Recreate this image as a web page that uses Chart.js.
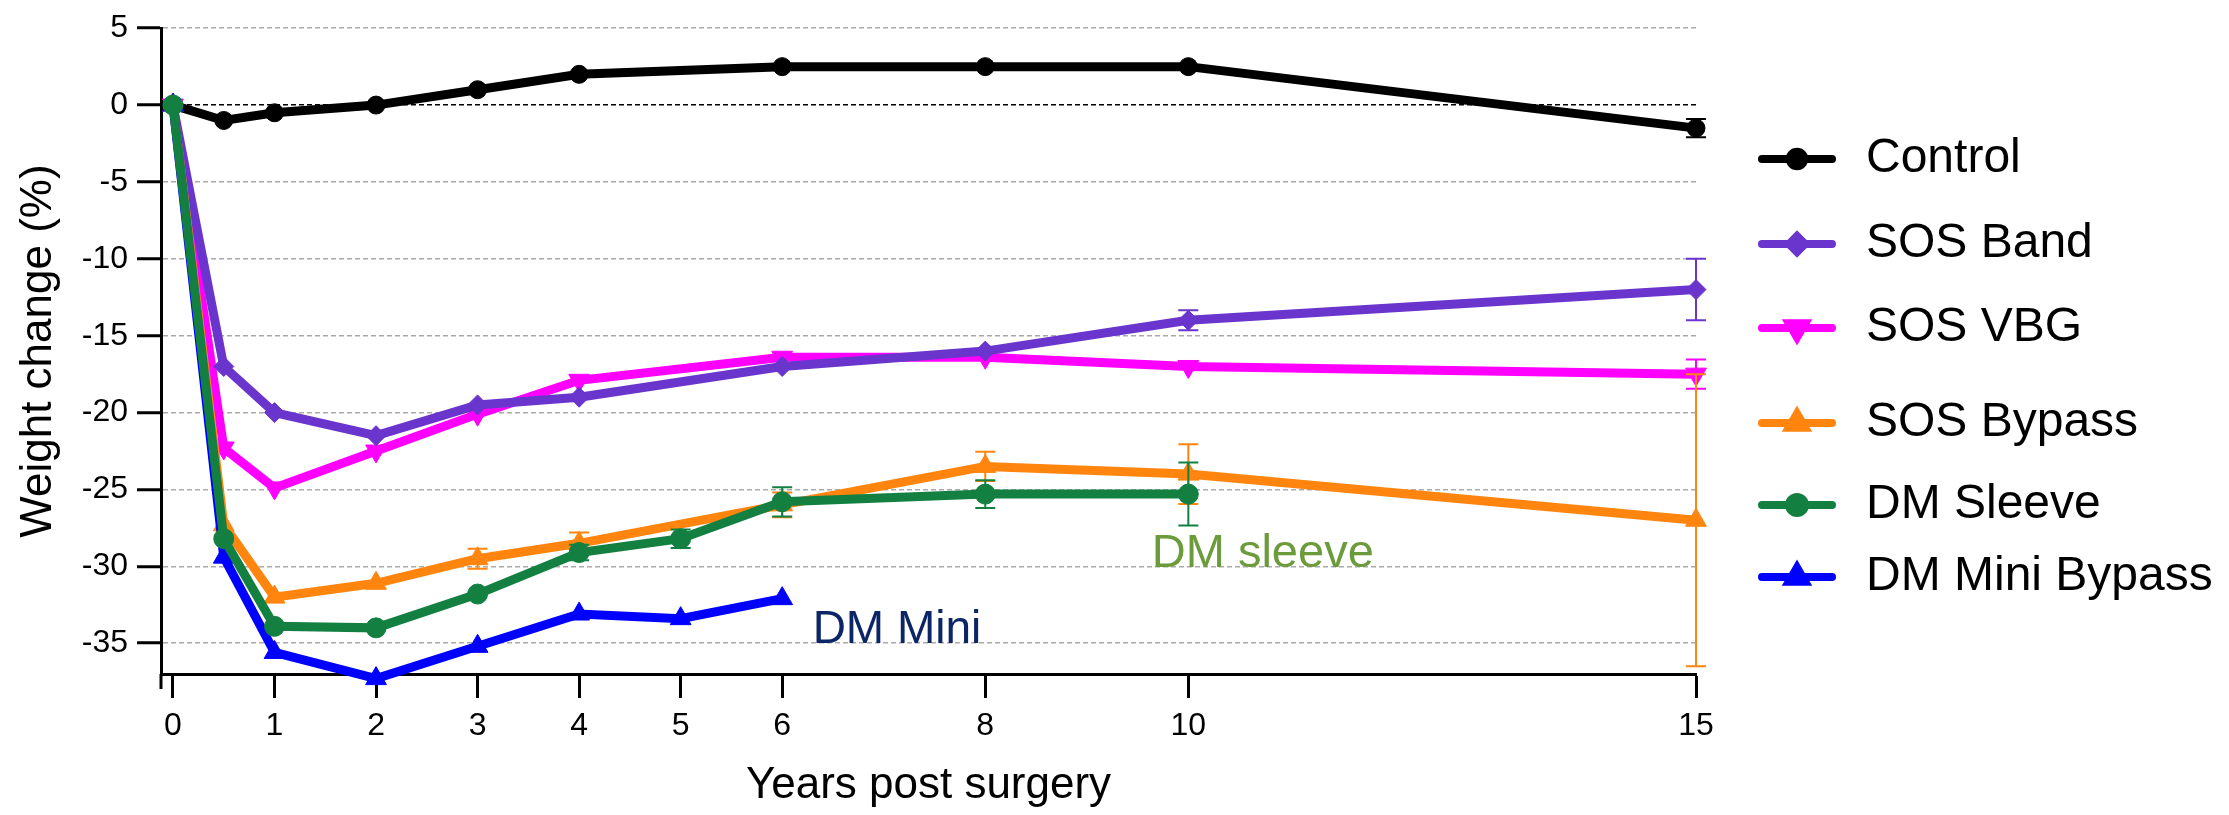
<!DOCTYPE html>
<html>
<head>
<meta charset="utf-8">
<script src="https://cdn.jsdelivr.net/npm/chart.js@4.4.1/dist/chart.umd.min.js"></script>
<style>
  body { margin: 0; background: #fff; }
  canvas { display: block; }
</style>
</head>
<body>
<canvas id="mycanvas" width="2229" height="815"></canvas>
<script>
var FONT = '"Liberation Sans", Arial, Helvetica, sans-serif';

// data (weight change %, mean with error)
var seriesNames = ['Control', 'SOS Band', 'SOS VBG', 'SOS Bypass', 'DM Sleeve', 'DM Mini Bypass'];
var sosYears = [0, 0.5, 1, 2, 3, 4, 6, 8, 10, 15];
var sleeveYears = [0, 0.5, 1, 2, 3, 4, 5, 6, 8, 10];
var miniYears = [0, 0.5, 1, 2, 3, 4, 5, 6];

var control = [0, -1, -0.5, 0, 1, 2, 2.5, 2.5, 2.5, -1.5];
var controlErr = [0, 0, 0, 0, 0, 0, 0, 0, 0, 0.6];
var sosBand = [0, -17, -20, -21.5, -19.5, -19, -17, -16, -14, -12];
var sosBandErr = [0, 0, 0, 0, 0, 0, 0, 0, 0.65, 2];
var sosVbg = [0, -22.3, -24.9, -22.5, -20.1, -17.9, -16.4, -16.4, -17, -17.5];
var sosVbgErr = [0, 0, 0, 0, 0, 0, 0, 0, 0, 0.95];
var sosBypass = [0, -27.3, -32, -31.1, -29.5, -28.5, -26, -23.5, -24, -27];
var sosBypassErr = [0, 0, 0, 0, 0.65, 0.7, 0.8, 0.95, 1.95, 9.5];
var dmSleeve = [0, -28.2, -33.9, -34, -31.8, -29.1, -28.2, -25.8, -25.3, -25.3];
var dmSleeveErr = [0, 0, 0, 0, 0, 0.5, 0.6, 0.95, 0.9, 2.05];
var dmMini = [0, -29.4, -35.6, -37.3, -35.2, -33.1, -33.4, -32.1];
var dmMiniErr = [0, 0, 0, 0, 0, 0, 0, 0];

var xTicks = [0, 1, 2, 3, 4, 5, 6, 8, 10, 15];
var yTicks = [5, 0, -5, -10, -15, -20, -25, -30, -35];

function pts(xs, ys) {
  return xs.map(function(x, i) { return {x: x, y: ys[i]}; });
}

function series(i, xs, ys, errs, color, style, radius, rot, order) {
  return {
    label: seriesNames[i],
    data: pts(xs, ys),
    errors: errs,
    borderColor: color,
    backgroundColor: color,
    borderWidth: 9,
    pointStyle: style,
    pointRadius: radius,
    pointRotation: rot,
    pointBorderWidth: 1,
    tension: 0,
    clip: false,
    order: order
  };
}

var datasets = [
  series(0, sosYears, control, controlErr, '#000000', 'circle', 9, 0, 5),
  series(1, sosYears, sosBand, sosBandErr, '#6a35cc', 'rectRot', 10, 0, 3),
  series(2, sosYears, sosVbg, sosVbgErr, '#ff00ff', 'triangle', 12, 180, 4),
  series(3, sosYears, sosBypass, sosBypassErr, '#ff850f', 'triangle', 12, 0, 2),
  series(4, sleeveYears, dmSleeve, dmSleeveErr, '#138042', 'circle', 10, 0, 0),
  series(5, miniYears, dmMini, dmMiniErr, '#0000ff', 'triangle', 12, 0, 1)
];

// error bars, drawn just before each dataset
var errorBars = {
  id: 'errorBars',
  beforeDatasetDraw: function(chart, args) {
    var ds = chart.data.datasets[args.index];
    if (!ds.errors) return;
    var ctx = chart.ctx, xs = chart.scales.x, ys = chart.scales.y;
    ctx.save();
    ctx.strokeStyle = ds.borderColor;
    ctx.lineWidth = 2;
    ds.data.forEach(function(p, i) {
      var e = ds.errors[i];
      if (!e) return;
      var px = xs.getPixelForValue(p.x);
      var t = ys.getPixelForValue(p.y + e);
      var b = ys.getPixelForValue(p.y - e);
      ctx.beginPath();
      ctx.moveTo(px, t); ctx.lineTo(px, b);
      ctx.moveTo(px - 10, t); ctx.lineTo(px + 10, t);
      ctx.moveTo(px - 10, b); ctx.lineTo(px + 10, b);
      ctx.stroke();
    });
    ctx.restore();
  }
};

// legend on the right, line + marker + label
var sideLegend = {
  id: 'sideLegend',
  afterDraw: function(chart) {
    var ctx = chart.ctx;
    var rows = [159, 244, 328, 423, 505, 577];
    chart.data.datasets.forEach(function(ds, i) {
      var y = rows[i];
      ctx.save();
      ctx.strokeStyle = ds.borderColor;
      ctx.fillStyle = ds.backgroundColor;
      ctx.lineWidth = 8;
      ctx.lineCap = 'round';
      ctx.beginPath();
      ctx.moveTo(1762, y); ctx.lineTo(1832, y);
      ctx.stroke();
      Chart.helpers.drawPoint(ctx, {
        pointStyle: ds.pointStyle,
        radius: ds.pointRadius * 0.8,
        rotation: ds.pointRotation,
        borderWidth: 1
      }, 1797, y);
      ctx.fillStyle = '#000';
      ctx.font = '48px ' + FONT;
      ctx.textBaseline = 'middle';
      ctx.textAlign = 'left';
      ctx.fillText(ds.label, 1866, y);
      ctx.restore();
    });
  }
};

// text notes inside the plot + the y axis stub below the x axis
var notes = {
  id: 'notes',
  afterDraw: function(chart) {
    var ctx = chart.ctx, xs = chart.scales.x, ys = chart.scales.y;
    ctx.save();
    ctx.font = '47px ' + FONT;
    ctx.textBaseline = 'alphabetic';
    ctx.fillStyle = '#6b9b3a';
    ctx.fillText('DM sleeve', xs.getPixelForValue(9.64), ys.getPixelForValue(-30.05));
    ctx.fillStyle = '#0b2566';
    ctx.font = '46px ' + FONT;
    ctx.fillText('DM Mini', xs.getPixelForValue(6.3), ys.getPixelForValue(-35));
    var a = chart.chartArea;
    ctx.strokeStyle = '#000';
    ctx.lineWidth = 3;
    ctx.beginPath();
    ctx.moveTo(a.left, a.bottom);
    ctx.lineTo(a.left, a.bottom + 15);
    ctx.stroke();
    ctx.restore();
  }
};

var ctx = document.getElementById('mycanvas');
var lineChart = new Chart(ctx, {
  type: 'line',
  data: { datasets: datasets },
  plugins: [errorBars, sideLegend, notes],
  options: {
    responsive: false,
    animation: false,
    devicePixelRatio: 1,
    layout: { padding: { left: 0, top: 22, right: 533, bottom: 0 } },
    plugins: { legend: { display: false }, tooltip: { enabled: false } },
    scales: {
      x: {
        type: 'linear',
        min: -0.118,
        max: 15,
        afterBuildTicks: function(s) { s.ticks = xTicks.map(function(v) { return {value: v}; }); },
        afterFit: function(s) { s.height = 141; },
        ticks: { font: { family: FONT, size: 32 }, color: '#000', padding: 9, autoSkip: false, maxRotation: 0 },
        grid: { drawOnChartArea: false, drawTicks: true, tickLength: 24, tickWidth: 3, tickColor: '#000' },
        border: { display: true, color: '#000', width: 3 },
        title: { display: true, text: 'Years post surgery', color: '#000',
                 font: { family: FONT, size: 44 }, padding: { top: 0, bottom: 3 } }
      },
      y: {
        min: -37,
        max: 5,
        afterBuildTicks: function(s) { s.ticks = yTicks.map(function(v) { return {value: v}; }); },
        afterFit: function(s) { s.width = 161; },
        ticks: { font: { family: FONT, size: 32 }, color: '#000', padding: 9 },
        grid: {
          color: function(c) { return c.tick && c.tick.value === 0 ? '#000' : '#aaaaaa'; },
          lineWidth: 1.5, tickLength: 24, tickWidth: 3, tickColor: '#000', tickBorderDash: []
        },
        border: { display: true, color: '#000', width: 3, dash: [5, 3] },
        title: { display: true, text: 'Weight change (%)', color: '#000',
                 font: { family: FONT, size: 44 }, padding: { top: 12, bottom: 0 } }
      }
    }
  }
});
</script>
</body>
</html>
